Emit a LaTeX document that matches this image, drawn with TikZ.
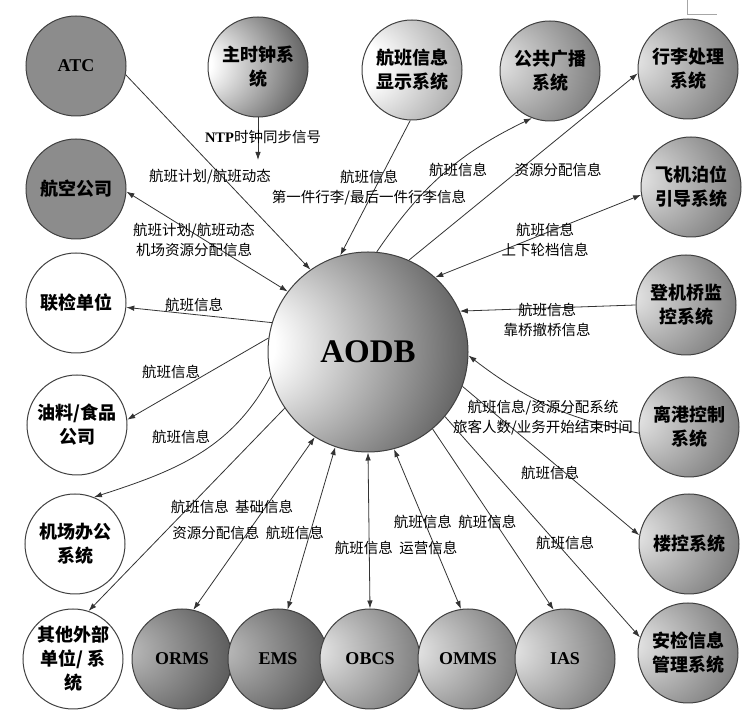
\documentclass[tikz,border=0pt]{standalone}
\usepackage{fontspec}
\setmainfont{Liberation Serif}
\newfontfamily\cjk{Noto Sans CJK SC}
\usetikzlibrary{arrows.meta}
\pgfdeclareradialshading{sphcore}{\pgfpoint{-36bp}{2bp}}{color(0bp)=(white); color(8bp)=(white); color(45bp)=(black!75); color(60bp)=(black!90)}
\pgfdeclareradialshading{sphsoft}{\pgfpoint{-35bp}{3bp}}{color(0bp)=(white); color(12bp)=(white); color(60bp)=(black!60)}
\pgfdeclareradialshading{sphgray}{\pgfpoint{-30bp}{5bp}}{color(0bp)=(black!8); color(62bp)=(black!78)}
\pgfdeclareradialshading{sphdeep}{\pgfpoint{-30bp}{5bp}}{color(0bp)=(black!25); color(62bp)=(black!90)}
\begin{document}
\begin{tikzpicture}[x=1pt,y=1pt,
  sys/.style={circle,draw=black!75,line width=1pt,minimum size=100pt,inner sep=0pt,align=center,font=\cjk\bfseries\fontsize{18}{24}\selectfont},
  en/.style={font=\bfseries\fontsize{18}{22}\selectfont},
  info/.style={font=\cjk\fontsize{14.5}{20}\selectfont,align=center,inner sep=0pt},
  flow/.style={draw=black!80,line width=0.8pt,-{Latex[length=8pt,width=5.5pt]}},
  twoway/.style={flow,{Latex[length=8pt,width=5.5pt]}-{Latex[length=8pt,width=5.5pt]}}]
\useasboundingbox (0,0) rectangle (752,717);
\draw[black!35,line width=0.6pt] (687,717) -- (687,703) -- (717,703);
% outer ring
\node[sys,en,fill=black!45] (atc) at (76,651) {ATC};
\node[sys,shading=sphcore] (clock) at (258,650) {主时钟系\\统};
\node[sys,shading=sphsoft] (fids) at (412,647) {航班信息\\显示系统};
\node[sys,shading=sphgray] (pa) at (550,646) {公共广播\\系统};
\node[sys,shading=sphgray] (bhs) at (688,648) {行李处理\\系统};
\node[sys,shading=sphgray] (vdgs) at (691,530) {飞机泊位\\引导系统};
\node[sys,shading=sphgray] (pbb) at (686,412) {登机桥监\\控系统};
\node[sys,shading=sphgray] (dcs) at (689,290) {离港控制\\系统};
\node[sys,shading=sphgray] (bas) at (689,173) {楼控系统};
\node[sys,shading=sphgray] (sec) at (688,64) {安检信息\\管理系统};
\node[sys,fill=black!45] (airline) at (76,528) {航空公司};
\node[sys,fill=white] (ciq) at (76,414) {联检单位};
\node[sys,fill=white] (fuel) at (77,292) {油料/食品\\公司};
\node[sys,fill=white] (office) at (75,173) {机场办公\\系统};
\node[sys,fill=white] (other) at (73,58) {其他外部\\单位/ 系\\统};
\node[sys,en,shading=sphdeep] (orms) at (182,58) {ORMS};
\node[sys,en,shading=sphdeep] (ems) at (278,58) {EMS};
\node[sys,en,shading=sphgray] (obcs) at (370,58) {OBCS};
\node[sys,en,shading=sphgray] (omms) at (468,58) {OMMS};
\node[sys,en,shading=sphgray] (ias) at (565,58) {IAS};
\node[sys,minimum size=200pt,shading=sphcore,font=\bfseries\fontsize{33}{36}\selectfont] (aodb) at (368,365) {AODB};
\coordinate (ntpend) at (258,557);
% connectors
\draw[flow] (atc.-10) -- (aodb.125);
\draw[flow] (clock.south) -- (ntpend);
\draw[flow] (fids.-92) -- (aodb.106);
\draw[flow] (aodb.85) to[bend left=15] (pa.-111);
\draw[flow] (aodb.66) -- (bhs.-175);
\draw[twoway] (aodb.48) -- (vdgs.189);
\draw[flow] (pbb.180) -- (aodb.24);
\draw[flow] (dcs.187) to[bend left=13] (aodb.-2);
\draw[flow] (aodb.-20) -- (bas.170);
\draw[flow] (aodb.-40) -- (sec.162);
\draw[flow] (aodb.-50) -- (ias.103);
\draw[twoway] (aodb.-75) -- (omms.98);
\draw[twoway] (aodb.-90) -- (obcs.north);
\draw[twoway] (aodb.-109) -- (ems.79);
\draw[twoway] (aodb.-122) -- (orms.77);
\draw[flow] (aodb.214) -- (other.72);
\draw[flow] (aodb.194) to[out=-118,in=18] (office.68);
\draw[flow] (aodb.172) -- (fuel.6);
\draw[flow] (aodb.163) -- (ciq.-5);
\draw[twoway] (aodb.143) -- (airline.-3);
% labels
\node[info] (lntp) at (263,580) {{\rmfamily\bfseries NTP}时钟同步信号};
\node[info] (latc) at (210,540) {航班计划/航班动态};
\node[info] (lfids) at (369,529) {航班信息\\第一件行李/最后一件行李信息};
\node[info] (lpa) at (458,547) {航班信息};
\node[info] (lbhs) at (558,547) {资源分配信息};
\node[info] (lvdgs) at (545,477) {航班信息\\上下轮档信息};
\node[info] (lair) at (194,477) {航班计划/航班动态\\机场资源分配信息};
\node[info] (lciq) at (194,412) {航班信息};
\node[info] (lpbb) at (547,397) {航班信息\\靠桥撤桥信息};
\node[info] (lfuel) at (171,345) {航班信息};
\node[info] (ldcs) at (543,299) {航班信息/资源分配系统\\旅客人数/业务开始结束时间};
\node[info] (loff) at (181,280) {航班信息};
\node[info] (lbas) at (550,244) {航班信息};
\node[info] (lorms) at (232,210) {航班信息\ \ 基础信息};
\node[info] (lems) at (248,184) {资源分配信息\ \ 航班信息};
\node[info] (lomms) at (455,195) {航班信息\ \ 航班信息};
\node[info] (lobcs) at (396,169) {航班信息\ \ 运营信息};
\node[info] (lias) at (565,174) {航班信息};
\end{tikzpicture}
\end{document}
